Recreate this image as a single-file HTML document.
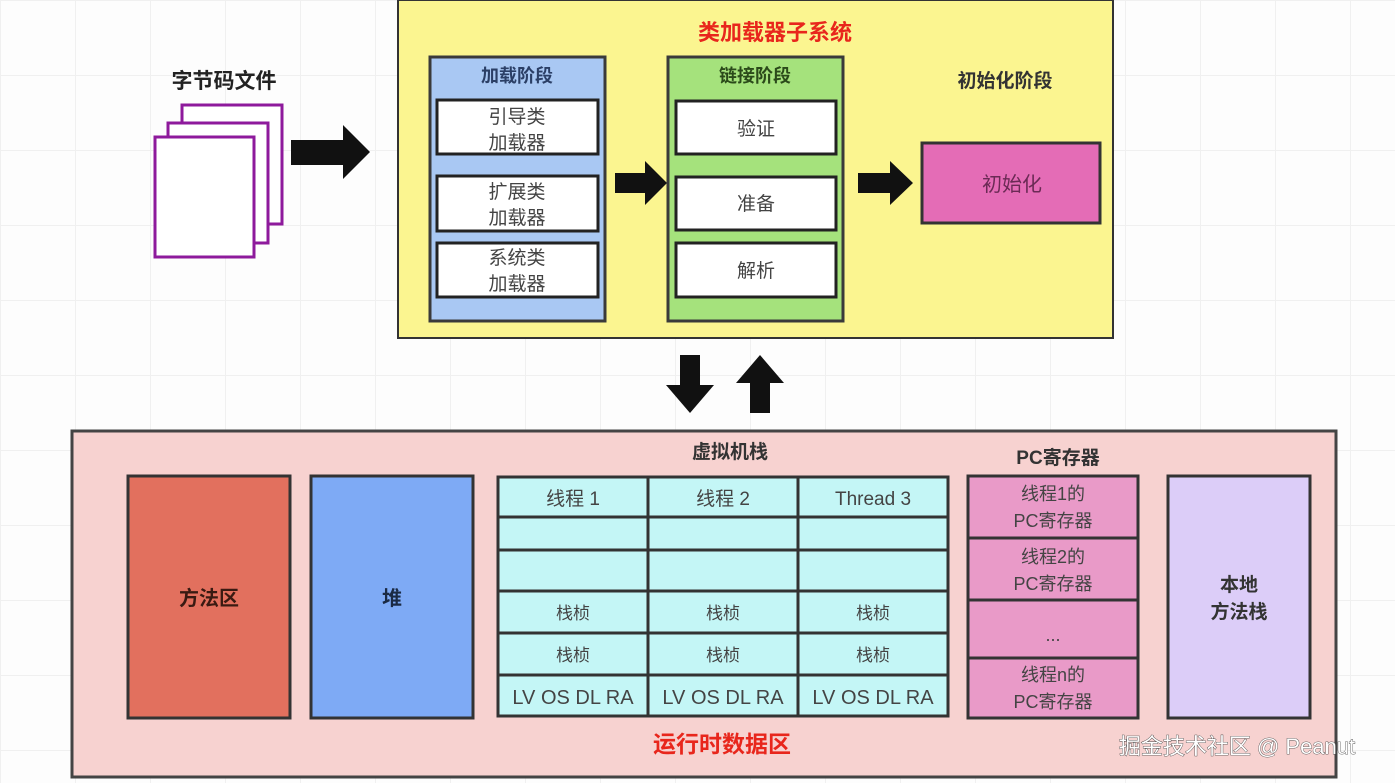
<!DOCTYPE html>
<html><head><meta charset="utf-8"><style>
html,body{margin:0;padding:0;background:#fff;}
svg{display:block;}
text{font-family:"Liberation Sans","Noto Sans CJK SC",sans-serif;}
</style></head><body>
<svg width="1395" height="783" viewBox="0 0 1395 783" xmlns="http://www.w3.org/2000/svg">
<defs>
<pattern id="g" width="75" height="75" patternUnits="userSpaceOnUse"><path d="M0 0H75M0 0V75" stroke="#f0f0f0" stroke-width="2" fill="none"/></pattern>
</defs>
<rect width="1395" height="783" fill="#fdfdfd"/>
<rect width="1395" height="783" fill="url(#g)"/>

<text x="224" y="88" font-size="21" font-weight="bold" text-anchor="middle" fill="#222">字节码文件</text>
<rect x="182" y="105" width="100" height="119" fill="#fff" stroke="#8e1a9c" stroke-width="3"/>
<rect x="168" y="123" width="100" height="120" fill="#fff" stroke="#8e1a9c" stroke-width="3"/>
<rect x="155" y="137" width="99" height="120" fill="#fff" stroke="#8e1a9c" stroke-width="3"/>
<polygon points="291,140 343,140 343,125 370,152 343,179 343,165 291,165" fill="#111"/>

<rect x="398" y="0" width="715" height="338" fill="#fbf590" stroke="#333" stroke-width="2"/>
<text x="775" y="40" font-size="22" font-weight="bold" text-anchor="middle" fill="#e8261c">类加载器子系统</text>

<rect x="430" y="57" width="175" height="264" fill="#a9c8f3" stroke="#3a3a3a" stroke-width="3"/>
<text x="517" y="82" font-size="18" font-weight="bold" text-anchor="middle" fill="#2b3f66">加载阶段</text>
<g fill="#fff" stroke="#222" stroke-width="3">
<rect x="437" y="100" width="161" height="54"/>
<rect x="437" y="176" width="161" height="55"/>
<rect x="437" y="243" width="161" height="54"/>
</g>
<g font-size="19" text-anchor="middle" fill="#444">
<text x="517" y="123">引导类</text><text x="517" y="149">加载器</text>
<text x="517" y="198">扩展类</text><text x="517" y="224">加载器</text>
<text x="517" y="264">系统类</text><text x="517" y="290">加载器</text>
</g>
<polygon points="615,173 645,173 645,161 667,183 645,205 645,193 615,193" fill="#111"/>

<rect x="668" y="57" width="175" height="264" fill="#a5e27c" stroke="#3a3a3a" stroke-width="3"/>
<text x="755" y="82" font-size="18" font-weight="bold" text-anchor="middle" fill="#2b4a1a">链接阶段</text>
<g fill="#fff" stroke="#222" stroke-width="3">
<rect x="676" y="101" width="160" height="53"/>
<rect x="676" y="177" width="160" height="53"/>
<rect x="676" y="243" width="160" height="54"/>
</g>
<g font-size="19" text-anchor="middle" fill="#444">
<text x="756" y="135">验证</text><text x="756" y="210">准备</text><text x="756" y="277">解析</text>
</g>
<polygon points="858,173 890,173 890,161 913,183 890,205 890,193 858,193" fill="#111"/>

<text x="1005" y="87" font-size="19" font-weight="bold" text-anchor="middle" fill="#333">初始化阶段</text>
<rect x="922" y="143" width="178" height="80" fill="#e46cb6" stroke="#333" stroke-width="3"/>
<text x="1012" y="191" font-size="20" text-anchor="middle" fill="#6b2a55">初始化</text>

<polygon points="680,355 700,355 700,385 714,385 690,413 666,385 680,385" fill="#111"/>
<polygon points="750,413 770,413 770,383 784,383 760,355 736,383 750,383" fill="#111"/>

<rect x="72" y="431" width="1264" height="346" fill="#f7d2d0" stroke="#444" stroke-width="3"/>
<rect x="128" y="476" width="162" height="242" fill="#e2705e" stroke="#333" stroke-width="3"/>
<text x="209" y="605" font-size="20" font-weight="bold" text-anchor="middle" fill="#3a1a12">方法区</text>
<rect x="311" y="476" width="162" height="242" fill="#7eaaf5" stroke="#333" stroke-width="3"/>
<text x="392" y="605" font-size="20" font-weight="bold" text-anchor="middle" fill="#1a2a44">堆</text>

<text x="730" y="458" font-size="19" font-weight="bold" text-anchor="middle" fill="#333">虚拟机栈</text>
<rect x="498" y="477" width="450" height="239" fill="#c4f6f6" stroke="#333" stroke-width="3"/>
<g stroke="#333" stroke-width="3">
<line x1="648" y1="477" x2="648" y2="716"/><line x1="798" y1="477" x2="798" y2="716"/>
<line x1="498" y1="517" x2="948" y2="517"/><line x1="498" y1="550" x2="948" y2="550"/>
<line x1="498" y1="591" x2="948" y2="591"/><line x1="498" y1="633" x2="948" y2="633"/>
<line x1="498" y1="675" x2="948" y2="675"/>
</g>
<g font-size="19" text-anchor="middle" fill="#444">
<text x="573" y="505">线程 1</text><text x="723" y="505">线程 2</text><text x="873" y="505">Thread 3</text>
</g>
<g font-size="17" text-anchor="middle" fill="#444">
<text x="573" y="619">栈桢</text><text x="723" y="619">栈桢</text><text x="873" y="619">栈桢</text>
<text x="573" y="661">栈桢</text><text x="723" y="661">栈桢</text><text x="873" y="661">栈桢</text>
</g>
<g font-size="20" text-anchor="middle" fill="#444">
<text x="573" y="704">LV OS DL RA</text><text x="723" y="704">LV OS DL RA</text><text x="873" y="704">LV OS DL RA</text>
</g>

<text x="1058" y="464" font-size="19" font-weight="bold" text-anchor="middle" fill="#333">PC寄存器</text>
<rect x="968" y="476" width="170" height="242" fill="#e99ac8" stroke="#333" stroke-width="3"/>
<g stroke="#333" stroke-width="3">
<line x1="968" y1="538" x2="1138" y2="538"/><line x1="968" y1="600" x2="1138" y2="600"/><line x1="968" y1="658" x2="1138" y2="658"/>
</g>
<g font-size="18" text-anchor="middle" fill="#444">
<text x="1053" y="500">线程1的</text><text x="1053" y="527">PC寄存器</text>
<text x="1053" y="563">线程2的</text><text x="1053" y="590">PC寄存器</text>
<text x="1053" y="641">...</text>
<text x="1053" y="681">线程n的</text><text x="1053" y="708">PC寄存器</text>
</g>

<rect x="1168" y="476" width="142" height="242" fill="#dccdf8" stroke="#333" stroke-width="3"/>
<text x="1239" y="591" font-size="19" font-weight="bold" text-anchor="middle" fill="#333">本地</text>
<text x="1239" y="618" font-size="19" font-weight="bold" text-anchor="middle" fill="#333">方法栈</text>

<text x="722" y="752" font-size="23" font-weight="bold" text-anchor="middle" fill="#e8261c">运行时数据区</text>
<text x="1237" y="754" font-size="22" text-anchor="middle" fill="#fff" stroke="#444" stroke-width="0.8" paint-order="stroke">掘金技术社区 @ Peanut</text>
</svg>
</body></html>
